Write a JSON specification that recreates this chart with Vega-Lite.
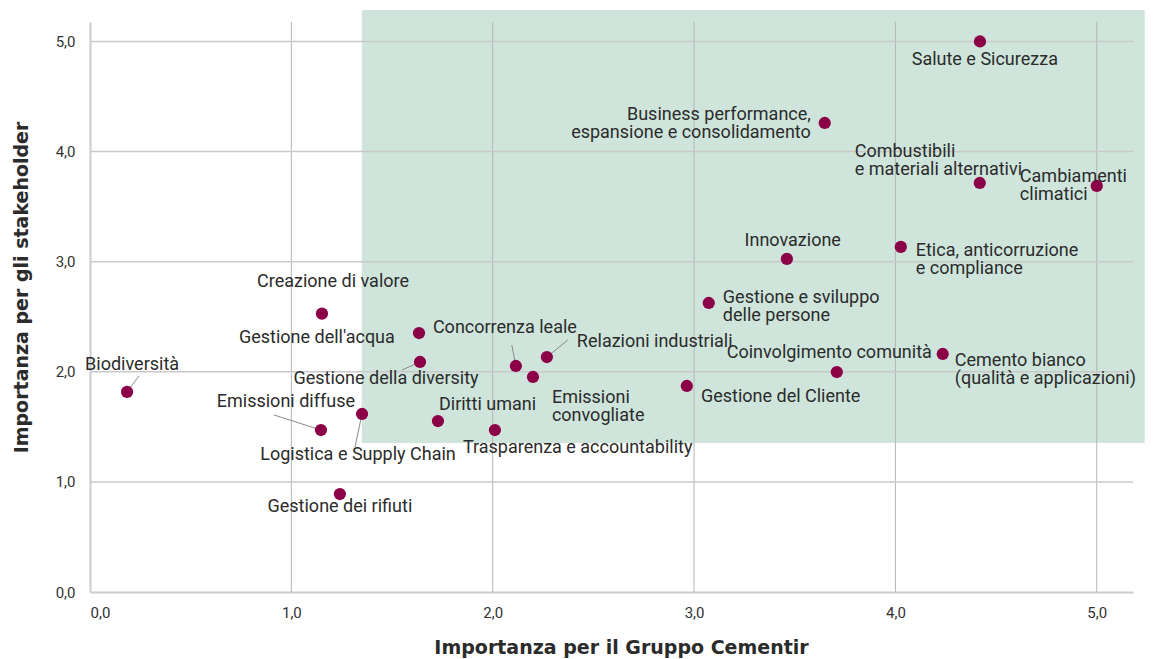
{
  "$schema": "https://vega.github.io/schema/vega-lite/v6.json",
  "width": 1043,
  "height": 570,
  "autosize": {"type": "none"},
  "padding": {"left": 90, "top": 22, "right": 22, "bottom": 67},
  "background": "white",
  "config": {"view": {"stroke": null}, "font": "Roboto"},
  "datasets": {
    "zona": [{"x": 1.35, "x2": 5.238, "y": 1.353, "y2": 5.286}],
    "vgrid": [{"v": 1}, {"v": 2}, {"v": 3}, {"v": 4}, {"v": 5}],
    "hgrid": [{"v": 1}, {"v": 2}, {"v": 3}, {"v": 4}, {"v": 5}],
    "temi": [
      {"tema": "Salute e Sicurezza", "x": 4.42, "y": 5.0, "lx": 4.444, "ly": 4.832, "pos": "center"},
      {"tema": "Business performance,\nespansione e consolidamento", "x": 3.649, "y": 4.26, "lx": 3.58, "ly": 4.328, "pos": "right"},
      {"tema": "Combustibili\ne materiali alternativi", "x": 4.419, "y": 3.715, "lx": 3.798, "ly": 3.996, "pos": "left"},
      {"tema": "Cambiamenti\nclimatici", "x": 5.0, "y": 3.688, "lx": 4.618, "ly": 3.765, "pos": "left"},
      {"tema": "Etica, anticorruzione\ne compliance", "x": 4.027, "y": 3.134, "lx": 4.101, "ly": 3.093, "pos": "left"},
      {"tema": "Innovazione", "x": 3.461, "y": 3.025, "lx": 3.49, "ly": 3.188, "pos": "center"},
      {"tema": "Gestione e sviluppo\ndelle persone", "x": 3.073, "y": 2.625, "lx": 3.143, "ly": 2.67, "pos": "left"},
      {"tema": "Creazione di valore", "x": 1.152, "y": 2.529, "lx": 1.207, "ly": 2.816, "pos": "center"},
      {"tema": "Gestione dell'acqua", "x": 1.634, "y": 2.352, "lx": 1.514, "ly": 2.307, "pos": "right"},
      {"tema": "Gestione della diversity", "x": 1.639, "y": 2.089, "lx": 1.47, "ly": 1.935, "pos": "center", "ex": 1.549, "ey": 2.016},
      {"tema": "Concorrenza leale", "x": 2.115, "y": 2.053, "lx": 1.703, "ly": 2.398, "pos": "left", "ex": 2.095, "ey": 2.243},
      {"tema": "Relazioni industriali", "x": 2.269, "y": 2.134, "lx": 2.418, "ly": 2.271, "pos": "left", "ex": 2.373, "ey": 2.289},
      {"tema": "Emissioni\nconvogliate", "x": 2.2, "y": 1.953, "lx": 2.294, "ly": 1.762, "pos": "left"},
      {"tema": "Coinvolgimento comunità", "x": 3.709, "y": 1.998, "lx": 4.181, "ly": 2.171, "pos": "right"},
      {"tema": "Cemento bianco\n(qualità e applicazioni)", "x": 4.235, "y": 2.162, "lx": 4.295, "ly": 2.098, "pos": "left"},
      {"tema": "Gestione del Cliente", "x": 2.964, "y": 1.871, "lx": 3.034, "ly": 1.771, "pos": "left"},
      {"tema": "Biodiversità", "x": 0.184, "y": 1.817, "lx": 0.209, "ly": 2.062, "pos": "center", "ex": 0.243, "ey": 1.962},
      {"tema": "Emissioni diffuse", "x": 1.147, "y": 1.471, "lx": 1.316, "ly": 1.726, "pos": "right", "ex": 0.914, "ey": 1.608},
      {"tema": "Logistica e Supply Chain", "x": 1.351, "y": 1.617, "lx": 1.331, "ly": 1.244, "pos": "center", "ex": 1.316, "ey": 1.317},
      {"tema": "Diritti umani", "x": 1.728, "y": 1.553, "lx": 1.733, "ly": 1.698, "pos": "left"},
      {"tema": "Trasparenza e accountability", "x": 2.011, "y": 1.471, "lx": 1.852, "ly": 1.308, "pos": "left"},
      {"tema": "Gestione dei rifiuti", "x": 1.241, "y": 0.89, "lx": 1.241, "ly": 0.772, "pos": "center"}
    ]
  },
  "layer": [
    {
      "data": {"name": "zona"},
      "mark": {"type": "rect", "color": "#cfe5db"},
      "encoding": {
        "x": {"field": "x", "type": "quantitative", "title": "Importanza per il Gruppo Cementir", "scale": {"domain": [0, 5.18], "nice": false},
          "axis": {"values": [0, 1, 2, 3, 4, 5], "labelExpr": "replace(format(datum.value, '.1f'), '.', ',')", "grid": false, "ticks": false,
            "domainColor": "#cccccc", "domainWidth": 2, "labelFont": "Roboto", "labelFontSize": 15, "labelColor": "#333333", "labelPadding": 13,
            "titleFont": "DejaVu Sans", "titleFontSize": 19, "titleFontWeight": "bold", "titleColor": "#2b2b2b", "titlePadding": 18, "titleX": 531}},
        "x2": {"field": "x2"},
        "y": {"field": "y", "type": "quantitative", "title": "Importanza per gli stakeholder", "scale": {"domain": [0, 5.177], "nice": false},
          "axis": {"values": [0, 1, 2, 3, 4, 5], "labelExpr": "replace(format(datum.value, '.1f'), '.', ',')", "grid": false, "ticks": false,
            "domainColor": "#cccccc", "domainWidth": 2, "labelFont": "Roboto", "labelFontSize": 15, "labelColor": "#333333", "labelPadding": 15,
            "titleFont": "DejaVu Sans", "titleFontSize": 19, "titleFontWeight": "bold", "titleColor": "#2b2b2b", "titlePadding": 24, "titleY": 265}},
        "y2": {"field": "y2"}
      }
    },
    {
      "data": {"name": "vgrid"},
      "mark": {"type": "rule", "color": "#b4b4b4", "strokeWidth": 1},
      "encoding": {"x": {"field": "v", "type": "quantitative", "title": "Importanza per il Gruppo Cementir", "scale": {"domain": [0, 5.18], "nice": false}}}
    },
    {
      "data": {"name": "hgrid"},
      "mark": {"type": "rule", "color": "#c9c9c9", "strokeWidth": 1.5},
      "encoding": {"y": {"field": "v", "type": "quantitative", "title": "Importanza per gli stakeholder", "scale": {"domain": [0, 5.177], "nice": false}}}
    },
    {
      "data": {"name": "temi"},
      "transform": [{"filter": "isValid(datum.ex)"}],
      "mark": {"type": "rule", "color": "#8a8a8a", "strokeWidth": 1},
      "encoding": {
        "x": {"field": "ex", "type": "quantitative", "title": "Importanza per il Gruppo Cementir", "scale": {"domain": [0, 5.18], "nice": false}},
        "y": {"field": "ey", "type": "quantitative", "title": "Importanza per gli stakeholder", "scale": {"domain": [0, 5.177], "nice": false}},
        "x2": {"field": "x"},
        "y2": {"field": "y"}
      }
    },
    {
      "data": {"name": "temi"},
      "mark": {"type": "point", "filled": true, "opacity": 1, "color": "#8c0047", "size": 150},
      "encoding": {
        "x": {"field": "x", "type": "quantitative", "title": "Importanza per il Gruppo Cementir", "scale": {"domain": [0, 5.18], "nice": false}},
        "y": {"field": "y", "type": "quantitative", "title": "Importanza per gli stakeholder", "scale": {"domain": [0, 5.177], "nice": false}}
      }
    },
    {
      "data": {"name": "temi"},
      "transform": [{"filter": "datum.pos === 'left'"}],
      "mark": {"type": "text", "align": "left", "baseline": "middle", "lineBreak": "\n", "lineHeight": 18, "fontSize": 18, "color": "#2b2b2b", "font": "Roboto"},
      "encoding": {
        "x": {"field": "lx", "type": "quantitative", "title": "Importanza per il Gruppo Cementir", "scale": {"domain": [0, 5.18], "nice": false}},
        "y": {"field": "ly", "type": "quantitative", "title": "Importanza per gli stakeholder", "scale": {"domain": [0, 5.177], "nice": false}},
        "text": {"field": "tema"}
      }
    },
    {
      "data": {"name": "temi"},
      "transform": [{"filter": "datum.pos === 'right'"}],
      "mark": {"type": "text", "align": "right", "baseline": "middle", "lineBreak": "\n", "lineHeight": 18, "fontSize": 18, "color": "#2b2b2b", "font": "Roboto"},
      "encoding": {
        "x": {"field": "lx", "type": "quantitative", "title": "Importanza per il Gruppo Cementir", "scale": {"domain": [0, 5.18], "nice": false}},
        "y": {"field": "ly", "type": "quantitative", "title": "Importanza per gli stakeholder", "scale": {"domain": [0, 5.177], "nice": false}},
        "text": {"field": "tema"}
      }
    },
    {
      "data": {"name": "temi"},
      "transform": [{"filter": "datum.pos === 'center'"}],
      "mark": {"type": "text", "align": "center", "baseline": "middle", "lineBreak": "\n", "lineHeight": 18, "fontSize": 18, "color": "#2b2b2b", "font": "Roboto"},
      "encoding": {
        "x": {"field": "lx", "type": "quantitative", "title": "Importanza per il Gruppo Cementir", "scale": {"domain": [0, 5.18], "nice": false}},
        "y": {"field": "ly", "type": "quantitative", "title": "Importanza per gli stakeholder", "scale": {"domain": [0, 5.177], "nice": false}},
        "text": {"field": "tema"}
      }
    }
  ]
}
